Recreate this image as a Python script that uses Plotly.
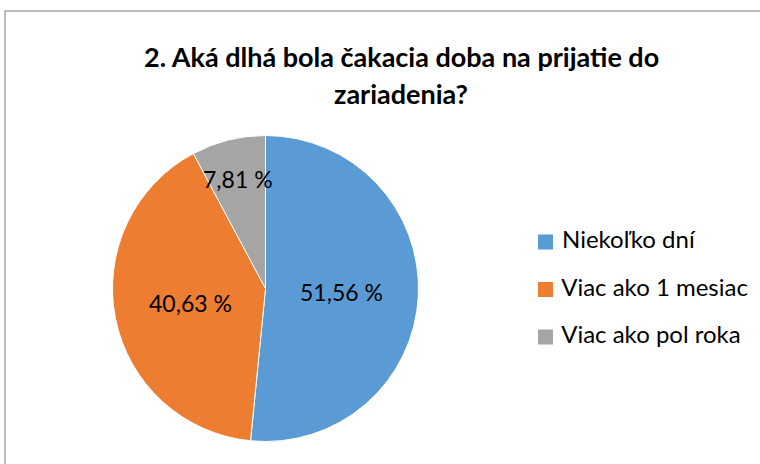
import math
import plotly.graph_objects as go

# ---- data ----
categories = ["Niekoľko dní", "Viac ako 1 mesiac", "Viac ako pol roka"]
percent_values = [51.56, 40.63, 7.81]
title_lines = ["2. Aká dlhá bola čakacia doba na prijatie do", "zariadenia?"]

# ---- style ----
colors = ["#5B9BD5", "#ED7D31", "#A5A5A5"]
W, H = 760, 464
FONT = "Lato"
cx_px, cy_px, r_px = 265.5, 288.5, 153.0
label_radius_frac = [0.50, 0.50, 0.74]

labels_text = [f"{v:.2f} %".replace(".", ",") for v in percent_values]

fig = go.Figure()
fig.add_trace(go.Pie(
    labels=categories,
    values=percent_values,
    sort=False,
    direction="clockwise",
    rotation=0,
    marker=dict(colors=colors, line=dict(color="white", width=1)),
    textinfo="none",
    showlegend=False,
    domain=dict(x=[(cx_px - r_px) / W, (cx_px + r_px) / W],
                y=[(H - cy_px - r_px) / H, (H - cy_px + r_px) / H]),
    hovertemplate="%{label}: %{value} %<extra></extra>",
))

# data labels placed at each slice's mid-angle
total = sum(percent_values)
cum = 0.0
annotations = []
for v, txt, frac in zip(percent_values, labels_text, label_radius_frac):
    mid = (cum + v / 2) / total * 2 * math.pi
    cum += v
    px = cx_px + math.sin(mid) * r_px * frac
    py = cy_px - math.cos(mid) * r_px * frac
    annotations.append(dict(x=px / W, y=1 - py / H, xref="paper", yref="paper",
                            xanchor="center", yanchor="middle",
                            text=txt, showarrow=False,
                            font=dict(family=FONT, size=23, color="#000000")))

# title lines
for i, line in enumerate(title_lines):
    annotations.append(dict(x=401 / W, y=1 - (57 + 36 * i) / H, xref="paper", yref="paper",
                            xanchor="center", yanchor="middle",
                            text=f"<b>{line}</b>", showarrow=False,
                            font=dict(family=FONT, size=27, color="#000000")))

# legend built from categories
fig.add_trace(go.Scatter(
    x=[0] * len(categories), y=categories,
    mode="markers+text",
    marker=dict(symbol="square", size=15, color=colors, line=dict(width=0)),
    text=[" " + c for c in categories], textposition="middle right",
    textfont=dict(family=FONT, size=24, color="#000000"),
    hoverinfo="skip", showlegend=False, cliponaxis=False,
))

fig.update_layout(
    width=W, height=H,
    margin=dict(l=0, r=0, t=0, b=0),
    paper_bgcolor="white", plot_bgcolor="rgba(0,0,0,0)",
    showlegend=False,
    annotations=annotations,
    xaxis=dict(domain=[545.5 / W, 1], range=[0, 1], visible=False, fixedrange=True),
    yaxis=dict(domain=[(H - 360.75) / H, (H - 218.25) / H], type="category",
               categoryorder="array", categoryarray=categories,
               range=[2.5, -0.5], autorange=False, visible=False, fixedrange=True),
    shapes=[dict(type="rect", xref="paper", yref="paper",
                 x0=5 / W, x1=1.02, y0=-0.02, y1=1 - 11 / H,
                 line=dict(color="#A6A6A6", width=1.5), fillcolor="rgba(0,0,0,0)")],
)

fig.write_html("out.html",
               config={"displayModeBar": False},
               post_script="document.body.style.margin='0';document.body.style.padding='0';")
